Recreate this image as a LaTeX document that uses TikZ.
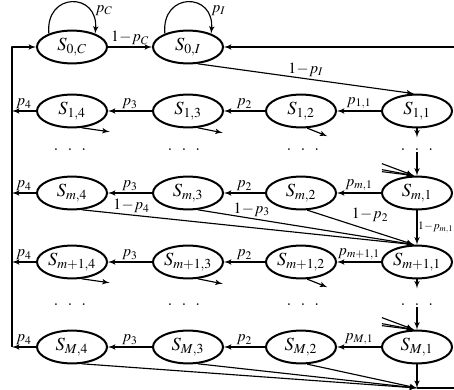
\documentclass[tikz,border=0pt]{standalone}
\usepackage{amsmath,amssymb}
\usepackage{mathptmx}
\usepackage{tikz}
\usetikzlibrary{shapes,arrows,positioning,calc}

\tikzset{
  stnode/.style={ellipse,draw,line width=1.4bp,minimum width=49bp,minimum height=23bp,
    inner sep=0pt,font=\fontsize{13}{15}\selectfont},
  lab/.style={font=\fontsize{11}{13}\selectfont,inner sep=1bp},
  dotnode/.style={inner sep=0.5bp,font=\fontsize{15}{17}\selectfont},
}
\newcommand{\threedots}{.\hspace{6bp}.\hspace{6bp}.}
\newcommand{\om}{1\!-\!}

\begin{document}
\begin{tikzpicture}[>=latex',x=0.7bp,y=0.7bp,line join=bevel]
\pgfsetlinewidth{0.8bp}
\useasboundingbox (0,0) rectangle (454,390);
% states
\node[stnode] (s0c) at (72,343) {$S_{0,C}$};
\node[stnode] (s0i) at (188,343) {$S_{0,I}$};
\node[stnode] (s11) at (417,279) {$S_{1,1}$};
\node[stnode] (s12) at (301,279) {$S_{1,2}$};
\node[stnode] (s13) at (188,279) {$S_{1,3}$};
\node[stnode] (s14) at (72,279) {$S_{1,4}$};
\node[stnode] (sm1) at (417,197) {$S_{m,1}$};
\node[stnode] (sm2) at (301,197) {$S_{m,2}$};
\node[stnode] (sm3) at (188,197) {$S_{m,3}$};
\node[stnode] (sm4) at (72,197) {$S_{m,4}$};
\node[stnode] (sn1) at (417,128) {$S_{m+1,1}$};
\node[stnode] (sn2) at (301,128) {$S_{m+1,2}$};
\node[stnode] (sn3) at (188,128) {$S_{m+1,3}$};
\node[stnode] (sn4) at (72,128) {$S_{m+1,4}$};
\node[stnode] (sM1) at (417,43) {$S_{M,1}$};
\node[stnode] (sM2) at (301,43) {$S_{M,2}$};
\node[stnode] (sM3) at (188,43) {$S_{M,3}$};
\node[stnode] (sM4) at (72,43) {$S_{M,4}$};
% dots
\node[dotnode] (d11) at (417,240) {\threedots};
\node[dotnode] (d12) at (303,240) {\threedots};
\node[dotnode] (d13) at (184,240) {\threedots};
\node[dotnode] (d14) at (70,240) {\threedots};
\node[dotnode] (d21) at (417,85) {\threedots};
\node[dotnode] (d22) at (303,85) {\threedots};
\node[dotnode] (d23) at (184,85) {\threedots};
\node[dotnode] (d24) at (70,85) {\threedots};
% return lines
\coordinate (l0) at (12,343);
\coordinate (l1) at (12,279);
\coordinate (lm) at (12,197);
\coordinate (ln) at (12,128);
\coordinate (lM) at (12,43);
\coordinate (rt) at (454,343);
\coordinate (bot) at (417,2);
\coordinate (rb) at (454,2);

% top row
\draw[->] (s0c.150) .. controls +(-4,42) and +(4,42) .. (s0c.30)
  node[lab,pos=0.85,anchor=south west] {$p_C$};
\draw[->] (s0i.150) .. controls +(-4,42) and +(4,42) .. (s0i.30)
  node[lab,pos=0.85,anchor=south west] {$p_I$};
\draw[->] (s0c) -- node[lab,above] {$\om p_C$} (s0i);
\draw[->] (rt) -- (s0i);
\draw[->] (s0i.-60) -- node[lab,above] {$\om p_I$} (s11.100);
\draw[->] (lM) -- (l0) -- (s0c);

% row 1
\draw[->] (s11) -- node[lab,above] {$p_{1,1}$} (s12);
\draw[->] (s12) -- node[lab,above] {$p_2$} (s13);
\draw[->] (s13) -- node[lab,above] {$p_3$} (s14);
\draw[->] (s14) -- node[lab,above] {$p_4$} (l1);
\draw[->] (s14.-60) -- ++(28,-4);
\draw[->] (s13.-60) -- ++(25,-5);
\draw[->] (s12.-70) -- ++(20,-8);
\draw[->] (s11.south) -- ++(0,-9);

% row m
\draw[->] (d11) -- (sm1);
\draw[<-] (sm1.100) -- ++(-32,12);
\draw[<-] (sm1.100) -- ++(-32,6);
\draw[<-] (sm1.100) -- ++(-32,4);
\draw[->] (sm1) -- node[lab,above] {$p_{m,1}$} (sm2);
\draw[->] (sm2) -- node[lab,above] {$p_2$} (sm3);
\draw[->] (sm3) -- node[lab,above] {$p_3$} (sm4);
\draw[->] (sm4) -- node[lab,above] {$p_4$} (lm);
\draw[->] (sm4.-60) -- node[lab,above,pos=0.15] {$\om p_4$} (sn1.100);
\draw[->] (sm3.-60) -- node[lab,above,pos=0.25] {$\om p_3$} (sn1.100);
\draw[->] (sm2.-70) -- node[lab,above right,pos=0.4] {$\om p_2$} (sn1.100);
\draw[->] (sm1) -- node[lab,right,inner sep=0.3bp,font=\fontsize{8}{10}\selectfont] {$\om p_{m,1}$} (sn1);

% row m+1
\draw[->] (sn1) -- node[lab,above] {$p_{m+1,1}$} (sn2);
\draw[->] (sn2) -- node[lab,above] {$p_2$} (sn3);
\draw[->] (sn3) -- node[lab,above] {$p_3$} (sn4);
\draw[->] (sn4) -- node[lab,above] {$p_4$} (ln);
\draw[->] (sn4.-60) -- ++(28,-4);
\draw[->] (sn3.-60) -- ++(25,-5);
\draw[->] (sn2.-70) -- ++(20,-8);
\draw[->] (sn1.south) -- ++(0,-9);

% row M
\draw[->] (d21) -- (sM1);
\draw[<-] (sM1.100) -- ++(-32,12);
\draw[<-] (sM1.100) -- ++(-32,6);
\draw[<-] (sM1.100) -- ++(-32,4);
\draw[->] (sM1) -- node[lab,above] {$p_{M,1}$} (sM2);
\draw[->] (sM2) -- node[lab,above] {$p_2$} (sM3);
\draw[->] (sM3) -- node[lab,above] {$p_3$} (sM4);
\draw[->] (sM4) -- node[lab,above] {$p_4$} (lM);
\draw[->] (sM4.-60) -- (bot);
\draw[->] (sM3.-60) -- (bot);
\draw[->] (sM2.-70) -- (bot);
\draw[->] (sM1) -- (bot);
\draw (bot) -- (rb);
\end{tikzpicture}
\end{document}
